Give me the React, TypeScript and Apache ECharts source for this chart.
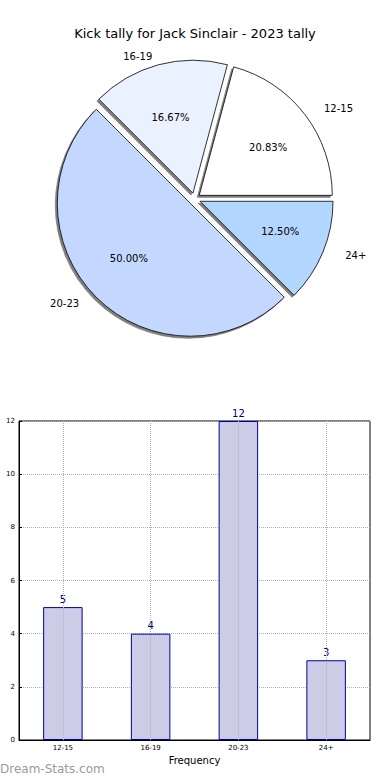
import React, { useEffect, useRef } from "react";
import * as echarts from "echarts";

const titleText = "Kick tally for Jack Sinclair - 2023 tally";
const categories = ["12-15", "16-19", "20-23", "24+"];
const tallies = [5, 4, 12, 3];
const yTicks = { min: 0, max: 12, interval: 2 };
const xAxisName = "Frequency";
const yAxisName = "Stat Kick Tally";
const watermark = "Dream-Stats.com";

const pieColors = ["#ffffff", "#eaf2ff", "#c4d8ff", "#b3d6ff"];
const FONT = "DejaVu Sans";

export default function App() {
  const ref = useRef<HTMLDivElement>(null);
  useEffect(() => {
    if (!ref.current) return;
    const chart = echarts.init(ref.current, null, { renderer: "svg" });
    const total = tallies.reduce((a, b) => a + b, 0);
    const cx = 194.5;
    const cy = 199;
    const R = 133;
    const off = 6;
    // the reference pie is slightly elliptical: stretch label placement
    const SX = 140 / R;
    const SY = 126.5 / R;
    const makeLayout = (sideAlign: boolean) => (params: any) => {
      const r = params.labelRect;
      const lx = r.x + r.width / 2;
      const ly = r.y + r.height / 2;
      const dx = lx - cx;
      const dy = ly - cy;
      let nx = cx + dx * SX;
      const ny = cy + dy * SY;
      if (sideAlign) nx += (dx >= 0 ? 1 : -1) * (r.width / 2);
      return { dx: nx - lx, dy: ny - ly };
    };
    const common = {
      type: "pie",
      center: [cx, cy],
      startAngle: 0,
      clockwise: false,
      selectedMode: "multiple",
      selectedOffset: off,
      avoidLabelOverlap: false,
      silent: true,
      emphasis: { disabled: true },
      labelLine: { show: false },
    };
    chart.setOption({
      animation: false,
      textStyle: { fontFamily: FONT },
      title: {
        text: titleText,
        left: "center",
        top: 22,
        textStyle: { fontSize: 13, fontWeight: "normal", color: "#000", fontFamily: FONT },
      },
      graphic: [
        {
          type: "text",
          left: 0,
          top: 763,
          style: { text: watermark, fontSize: 12, fill: "#9a9a9a", fontFamily: FONT },
        },
      ],
      grid: {
        left: 19,
        right: 20,
        top: 421,
        bottom: 40,
        show: true,
        borderColor: "#000",
        borderWidth: 1,
        containLabel: false,
        outerBoundsMode: "none",
      },
      xAxis: {
        type: "category",
        data: categories,
        axisLine: { lineStyle: { color: "#000" } },
        axisTick: { show: true, alignWithLabel: true, inside: true, length: 3, lineStyle: { color: "#000" } },
        axisLabel: { fontSize: 7, color: "#000", margin: 4, fontFamily: FONT },
        splitLine: { show: false },
        name: xAxisName,
        nameLocation: "middle",
        nameGap: 15,
        nameTextStyle: { fontSize: 10, color: "#000", fontFamily: FONT },
      },
      yAxis: {
        type: "value",
        min: yTicks.min,
        max: yTicks.max,
        interval: yTicks.interval,
        axisLine: { show: true, lineStyle: { color: "#000" } },
        axisTick: { show: true, inside: true, length: 3, lineStyle: { color: "#000" } },
        axisLabel: { fontSize: 7, color: "#000", margin: 4, fontFamily: FONT },
        splitLine: { show: true, lineStyle: { type: "dotted", color: "#b0b0b0", width: 1 } },
        name: yAxisName,
        nameLocation: "middle",
        nameGap: 14,
        nameTextStyle: { fontSize: 10, color: "#000", fontFamily: FONT },
      },
      series: [
        {
          ...common,
          radius: R,
          label: { show: false },
          itemStyle: {
            borderColor: "#000",
            borderWidth: 0.8,
            shadowColor: "rgba(0,0,0,0.5)",
            shadowOffsetX: -2,
            shadowOffsetY: 2,
            shadowBlur: 0,
          },
          data: categories.map((c, i) => ({
            name: c,
            value: tallies[i],
            selected: true,
            itemStyle: { color: pieColors[i] },
          })),
        },
        {
          ...common,
          radius: [26, R],
          itemStyle: { color: "rgba(0,0,0,0)", borderWidth: 0 },
          label: {
            show: true,
            position: "inside",
            fontSize: 10,
            color: "#000",
            fontFamily: FONT,
            formatter: (p: any) => ((p.value / total) * 100).toFixed(2) + "%",
          },
          labelLayout: makeLayout(false),
          data: categories.map((c, i) => ({ name: c, value: tallies[i], selected: true })),
        },
        {
          ...common,
          radius: [R, R * 1.2],
          itemStyle: { color: "rgba(0,0,0,0)", borderWidth: 0 },
          label: {
            show: true,
            position: "inside",
            fontSize: 10,
            color: "#000",
            fontFamily: FONT,
            formatter: "{b}",
          },
          labelLayout: makeLayout(true),
          data: categories.map((c, i) => ({ name: c, value: tallies[i], selected: true })),
        },
        {
          type: "bar",
          data: tallies,
          barWidth: "45%",
          itemStyle: { color: "#ccccE6", borderColor: "#0000a0", borderWidth: 1 },
          label: {
            show: true,
            position: "top",
            distance: 3,
            fontSize: 10,
            color: "#000080",
            fontFamily: FONT,
          },
          emphasis: { disabled: true },
          markLine: {
            silent: true,
            symbol: "none",
            label: { show: false },
            lineStyle: { type: "dotted", color: "#b0b0b0", width: 1 },
            data: categories.map((c) => ({ xAxis: c })),
          },
        },
      ],
    });
    return () => chart.dispose();
  }, []);
  return (
    <div
      ref={ref}
      style={{ position: "fixed", left: 0, top: 0, width: 390, height: 780, background: "#fff" }}
    />
  );
}
